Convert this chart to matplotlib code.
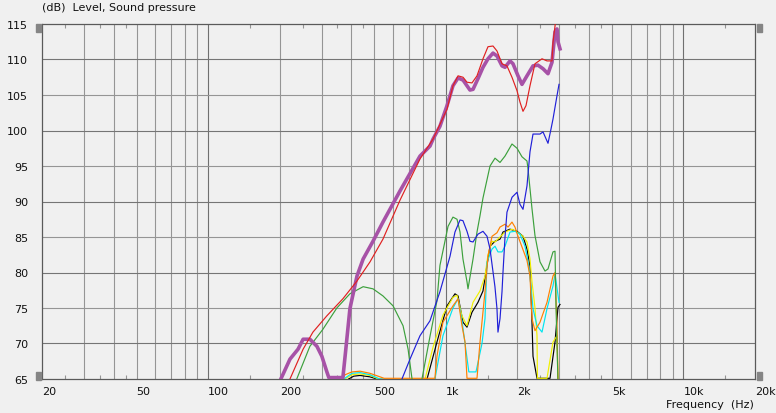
import matplotlib
matplotlib.use("Agg")
import matplotlib.pyplot as plt
from matplotlib.patches import Rectangle
import numpy as np

# frequency (Hz) / level (dB)
mag_f = [196, 221, 239, 251, 268, 287, 301, 316, 322, 369, 377, 395, 423, 449, 494, 544, 642, 779, 858, 884,
         945, 1012, 1072, 1126, 1182, 1228, 1264, 1302, 1366, 1434, 1505, 1580, 1642, 1724, 1775, 1863, 1918,
         2013, 2092, 2196, 2328, 2443, 2565, 2692, 2798, 2881, 2937, 2966, 3024]
mag_db = [64.0, 67.8, 69.2, 70.6, 70.6, 69.6, 68.2, 66.0, 65.2, 65.2, 68.2, 74.9, 79.5, 81.9, 84.4, 87.1, 91.5, 96.4, 97.8, 98.8,
          100.6, 103.5, 106.3, 107.4, 107.1, 106.3, 105.7, 105.8, 107.3, 108.9, 110.1, 110.9, 110.5, 109.1, 108.9, 109.8, 109.4,
          107.7, 106.5, 107.7, 109.1, 109.2, 108.7, 108.0, 109.6, 113.9, 114.3, 112.5, 111.5]

red_f = [213, 221, 251, 276, 316, 369, 423, 480, 544, 642, 779, 884, 1012, 1072, 1126, 1182, 1228, 1289, 1353, 1434,
         1505, 1580, 1642, 1724, 1809, 1899, 1994, 2052, 2113, 2175, 2261, 2373, 2540, 2666, 2798, 2825, 2881, 2910]
red_db = [64.3, 65.0, 69.2, 71.6, 73.9, 76.3, 78.8, 81.5, 84.7, 90.2, 96.0, 98.8, 103.0, 106.3, 107.7, 107.5, 106.8, 106.7, 107.7, 110.1,
          111.8, 111.9, 111.2, 109.4, 109.1, 107.5, 105.6, 104.0, 102.7, 103.5, 106.3, 109.4, 110.1, 109.8, 109.8, 112.4, 114.7, 116.0]

blue_f = [640, 654, 707, 779, 858, 945, 1042, 1093, 1148, 1181, 1228, 1264, 1302, 1366, 1434, 1491, 1535, 1580, 1610,
          1642, 1658, 1691, 1724, 1741, 1775, 1809, 1900, 1994, 2052, 2113, 2196, 2261, 2328, 2491, 2565, 2692,
          2771, 2825, 2937, 2995]
blue_db = [64.5, 65.0, 67.8, 71.1, 73.2, 77.3, 82.3, 85.7, 87.4, 87.3, 85.8, 84.4, 84.3, 85.4, 85.8, 85.1, 83.3, 80.1, 78.0,
           74.9, 71.6, 73.5, 77.3, 80.1, 85.0, 88.5, 90.6, 91.3, 89.6, 88.9, 92.2, 97.0, 99.5, 99.5, 99.8, 98.2,
           100.2, 101.6, 104.9, 106.5]

green_f = [232, 236, 268, 304, 348, 395, 449, 494, 544, 600, 661, 694, 721, 730]
green_db = [64.5, 65.0, 69.6, 72.0, 75.0, 77.0, 78.0, 77.7, 76.7, 75.3, 72.5, 69.2, 65.0, 64.0]
green2_f = [785, 794, 858, 918, 945, 1022, 1072, 1115, 1148, 1181, 1228, 1240, 1302, 1353, 1393, 1434, 1535, 1611,
            1691, 1775, 1899, 1994, 2092, 2196, 2218, 2305, 2373, 2491, 2615, 2692, 2825, 2881, 2910, 2966]
green2_db = [64.5, 65.0, 71.0, 76.0, 81.0, 86.5, 87.8, 87.5, 85.7, 81.9, 78.7, 77.7, 81.9, 85.7, 88.0, 90.5, 95.0, 96.1,
             95.5, 96.4, 98.1, 97.5, 96.3, 95.7, 94.6, 89.0, 85.2, 81.5, 80.2, 80.5, 82.9, 83.0, 75.0, 64.5]

orange_f = [369, 377, 403, 436, 480, 529, 550, 900, 918, 973, 1072, 1126, 1170, 1205, 1228, 1353, 1393, 1462, 1505,
            1565, 1642, 1691, 1775, 1827, 1899, 1955, 2013, 2092, 2196, 2261, 2305, 2373, 2491, 2666, 2825, 2881,
            2937, 2966]
orange_db = [65.1, 65.6, 66.0, 66.1, 65.8, 65.3, 65.1, 65.1, 68.2, 73.0, 75.3, 76.3, 72.5, 70.2, 65.1, 65.1, 70.2, 77.3, 82.3,
             85.1, 85.6, 86.4, 86.8, 86.4, 87.1, 86.4, 85.1, 83.6, 81.7, 79.5, 73.5, 71.8, 73.0, 75.8, 79.5, 80.0,
             72.5, 64.5]

cyan_f = [372, 403, 436, 480, 527, 885, 900, 973, 1072, 1126, 1170, 1205, 1250, 1340, 1420, 1462, 1491, 1565, 1611,
          1658, 1724, 1775, 1863, 1955, 2052, 2154, 2218, 2261, 2328, 2420, 2540, 2666, 2825, 2881, 2995]
cyan_db = [65.0, 65.8, 65.9, 65.6, 65.0, 64.5, 65.0, 71.1, 75.0, 76.3, 73.2, 70.0, 66.0, 66.0, 70.0, 73.5, 81.5, 83.3, 83.7,
           82.9, 82.9, 83.7, 85.7, 85.8, 85.4, 83.7, 81.5, 79.5, 74.9, 72.5, 71.6, 74.9, 78.1, 79.8, 75.8]

yellow_f = [376, 403, 436, 480, 520, 800, 818, 884, 973, 1072, 1115, 1170, 1228, 1302, 1393, 1462, 1505, 1565, 1611,
            1691, 1775, 1899, 1994, 2113, 2196, 2261, 2305, 2373, 2420, 2430, 2666, 2825, 2937, 2966]
yellow_db = [65.0, 65.6, 65.7, 65.5, 65.0, 64.5, 65.0, 69.5, 74.0, 76.5, 76.8, 73.9, 72.5, 75.8, 77.4, 79.5, 82.5, 84.4, 84.3,
             85.0, 85.7, 86.1, 85.7, 85.1, 84.3, 81.9, 78.7, 75.0, 71.1, 65.1, 65.1, 70.2, 71.1, 64.5]

black_f = [390, 410, 436, 480, 515, 820, 834, 918, 1012, 1093, 1126, 1181, 1228, 1289, 1366, 1434, 1505, 1535, 1611,
           1691, 1741, 1863, 1994, 2113, 2196, 2261, 2305, 2328, 2420, 2745, 2881, 2966, 3024]
black_db = [65.0, 65.4, 65.5, 65.3, 65.0, 64.5, 65.0, 70.2, 75.3, 77.0, 76.7, 73.0, 72.3, 74.4, 75.8, 77.4, 81.9, 83.7, 84.4,
            84.7, 85.7, 86.1, 85.8, 85.1, 83.3, 80.9, 73.0, 68.2, 65.1, 65.1, 70.2, 75.1, 75.5]

x_labels = [20, 50, 100, 200, 500, 1000, 2000, 5000, 10000, 20000]
x_label_text = ["20", "50", "100", "200", "500", "1k", "2k", "5k", "10k", "20k"]
x_minor = [25, 35, 45, 150, 250, 350, 450, 1500, 2500, 3500, 4500, 15000]
y_ticks = list(range(65, 120, 5))

W, H = 776, 414
bg = "#f0f0f0"
fig = plt.figure(figsize=(W / 100, H / 100), dpi=100, facecolor=bg)
ax = fig.add_axes([42 / W, 34 / H, 713 / W, 355 / H], facecolor=bg)
ax.set_xscale("log")
ax.set_xlim(20, 20000)
ax.set_ylim(65, 115)

# grid
glw = 0.8
grid_light = [m * 10 ** e for e in (1, 2, 3) for m in range(2, 10) if 20 < m * 10 ** e < 20000]
ax.vlines(grid_light, 0, 1, transform=ax.get_xaxis_transform(), color="#959595", lw=glw, zorder=1)
ax.vlines([100, 1000, 10000], 0, 1, transform=ax.get_xaxis_transform(), color="#707070", lw=glw, zorder=1)
for v in y_ticks[1:-1]:
    ax.axhline(v, color="#757575" if v % 10 == 0 else "#959595", lw=glw, zorder=1)

# curves
thin = 0.85
ax.plot(black_f, black_db, color="#000000", lw=thin, zorder=3)
ax.plot(yellow_f, yellow_db, color="#f0f000", lw=thin, zorder=3)
ax.plot(cyan_f, cyan_db, color="#00e5ee", lw=thin, zorder=3)
ax.plot(orange_f, orange_db, color="#ff8000", lw=thin, zorder=3)
ax.plot(green_f, green_db, color="#3ca03c", lw=thin, zorder=3)
ax.plot(green2_f, green2_db, color="#3ca03c", lw=thin, zorder=3)
ax.plot(blue_f, blue_db, color="#2020d8", lw=thin, zorder=3)
ax.plot(mag_f, mag_db, color="#a752a7", lw=2.6, zorder=4, solid_joinstyle="round")
ax.plot(red_f, red_db, color="#e02020", lw=thin, zorder=5)

# axes styling
for s in ax.spines.values():
    s.set_color("#5a5a5a")
    s.set_linewidth(0.9)
ax.set_xticks(x_labels)
ax.set_xticklabels(x_label_text, ha="left")
ax.set_xticks(x_minor, minor=True)
ax.set_yticks(y_ticks)
ax.tick_params(axis="x", which="major", length=0, pad=5, labelsize=8, labelcolor="#111111")
ax.tick_params(axis="x", which="minor", direction="in", top=True, bottom=True, length=3,
               color="#959595", width=glw, labelbottom=False)
ax.tick_params(axis="y", which="both", length=0, pad=10, labelsize=8, labelcolor="#111111")
for lab in ax.get_xticklabels():
    lab.set_horizontalalignment("left")

# drag handles at axis corners
for hx in (36, 757):
    for hy in (25, 373):
        fig.patches.append(Rectangle((hx / W, 1 - (hy + 8) / H), 5 / W, 8 / H,
                                     transform=fig.transFigure, color="#858585"))

fig.text(42 / W, 1 - 8 / H, "(dB)  Level, Sound pressure", fontsize=8, va="center", ha="left", color="#111111")
fig.text(754 / W, 1 - 405 / H, "Frequency  (Hz)", fontsize=8, va="center", ha="right", color="#111111")

plt.savefig("out.png", dpi=100, facecolor=bg)
